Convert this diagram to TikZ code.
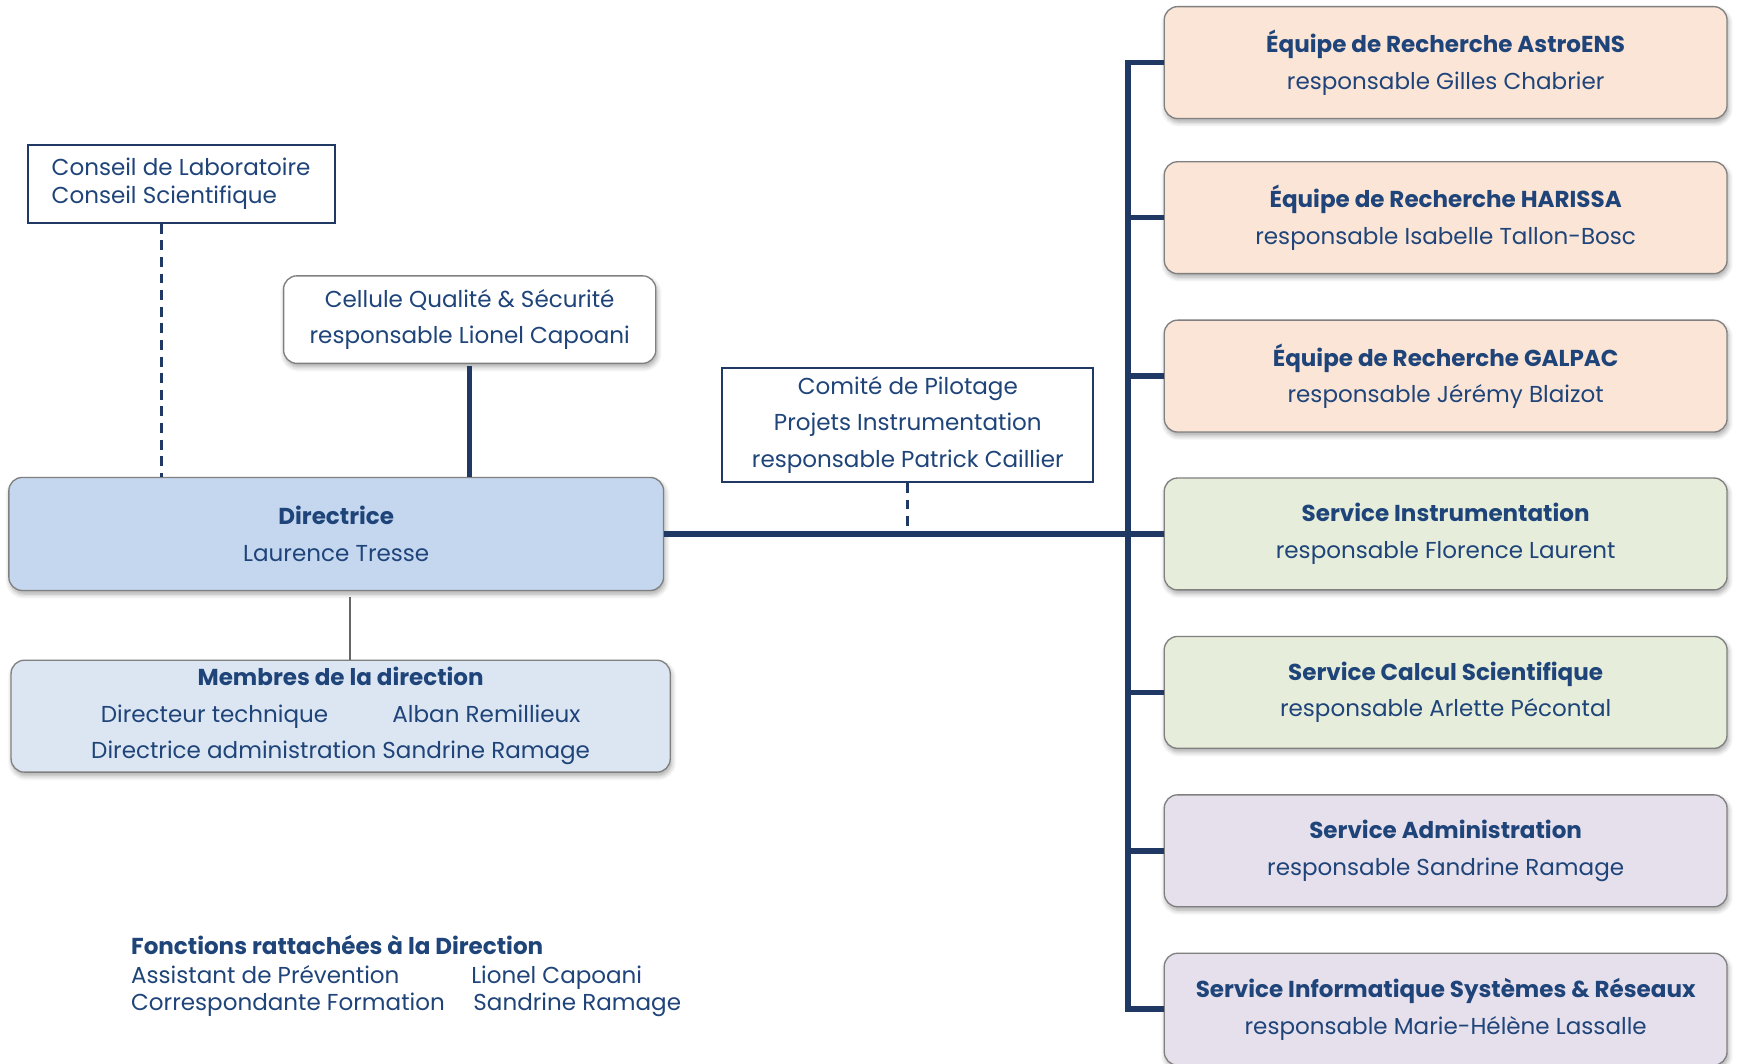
\documentclass[tikz,border=0pt]{standalone}
\usepackage{fontspec}
\setmainfont{Poppins}
\usetikzlibrary{calc,shadows.blur}
\definecolor{txt}{HTML}{1F4479}
\definecolor{navy}{HTML}{1F3864}
\definecolor{peach}{HTML}{FBE5D6}
\definecolor{sage}{HTML}{E6EEDB}
\definecolor{lav}{HTML}{E5E0EC}
\definecolor{dirblue}{HTML}{C5D7EF}
\definecolor{membblue}{HTML}{DCE6F2}
\definecolor{edge}{HTML}{808080}
\begin{document}
\begin{tikzpicture}[x=0.5pt,y=-0.5pt,
  every node/.style={text=txt,font=\fontsize{10.4}{16.5}\selectfont},
  rbox/.style={draw=edge,line width=0.6pt,rounded corners=6pt,align=center,inner sep=0pt,
    blur shadow={shadow xshift=0.6pt,shadow yshift=-1.6pt,shadow blur steps=6,shadow opacity=35}},
  sbox/.style={draw=navy,line width=0.9pt,fill=white,inner sep=0pt},
  teambox/.style={rbox,minimum width=254pt,minimum height=50.5pt},
  thickline/.style={draw=navy,line width=2.5pt},
  dashline/.style={draw=navy,line width=1.3pt,dash pattern=on 4.5pt off 3pt},
  thinline/.style={draw=edge!80!black,line width=1pt},
  plain/.style={inner sep=0pt,anchor=mid west}
]
\useasboundingbox (0,0) rectangle (1568,960);

% left side
\node[sbox,minimum width=138.5pt,minimum height=35pt,align=left,font=\fontsize{10.4}{12.5}\selectfont] (conseil) at (163.5,166)
  {Conseil de Laboratoire\\Conseil Scientifique};
\node[rbox,fill=white,minimum width=168pt,minimum height=39.5pt] (cell) at (424,288.5)
  {Cellule Qualité \& Sécurité\\responsable Lionel Capoani};
\node[rbox,fill=dirblue,minimum width=295.5pt,minimum height=51pt] (dir) at (303.5,482)
  {\textbf{Directrice}\\Laurence Tresse};
\node[rbox,fill=membblue,minimum width=297.5pt,minimum height=50.5pt] (memb) at (307.5,646.5)
  {\textbf{Membres de la direction}\\Directeur technique\hspace{29pt}Alban Remillieux\\Directrice administration Sandrine Ramage};
\node[sbox,minimum width=167.5pt,minimum height=51.5pt,align=center] (comite) at (819.5,383.5)
  {Comité de Pilotage\\Projets Instrumentation\\responsable Patrick Caillier};

% fonctions
\node[plain] (f0) at (118,856) {\textbf{Fonctions rattachées à la Direction}};
\node[plain] (f1a) at (118,882) {Assistant de Prévention};
\node[plain] (f1b) at (425,882) {Lionel Capoani};
\node[plain] (f2a) at (118,907) {Correspondante Formation};
\node[plain] (f2b) at (427,907) {Sandrine Ramage};

% right side
\node[teambox,fill=peach] (a1) at (1305,56.5) {\textbf{Équipe de Recherche AstroENS}\\responsable Gilles Chabrier};
\node[teambox,fill=peach] (a2) at (1305,196.5) {\textbf{Équipe de Recherche HARISSA}\\responsable Isabelle Tallon-Bosc};
\node[teambox,fill=peach] (a3) at (1305,339.5) {\textbf{Équipe de Recherche GALPAC}\\responsable Jérémy Blaizot};
\node[teambox,fill=sage] (a4) at (1305,482) {\textbf{Service Instrumentation}\\responsable Florence Laurent};
\node[teambox,fill=sage] (a5) at (1305,625) {\textbf{Service Calcul Scientifique}\\responsable Arlette Pécontal};
\node[teambox,fill=lav] (a6) at (1305,768) {\textbf{Service Administration}\\responsable Sandrine Ramage};
\node[teambox,fill=lav] (a7) at (1305,911) {\textbf{Service Informatique Systèmes \& Réseaux}\\responsable Marie-Hélène Lassalle};

\coordinate (bus) at (1018,482);

% connectors
\draw[dashline] ($(conseil.south)+(-17.5,0)$) coordinate (c1) -- (c1 |- dir.north);
\draw[thickline] ($(cell.south)+(0,2)$) -- (cell.south |- dir.north);
\draw[thinline] ($(dir.south)+(12.5,5)$) coordinate (d1) -- (d1 |- memb.north);
\draw[dashline] (comite.south) -- (comite.south |- dir.east);
\draw[thickline] (dir.east) -- (bus);
\draw[thickline,line cap=rect] (a1.west -| bus) -- (a7.west -| bus);
\foreach \i in {1,...,7} {\draw[thickline] (a\i.west) -- (a\i.west -| bus);}
\end{tikzpicture}
\end{document}
